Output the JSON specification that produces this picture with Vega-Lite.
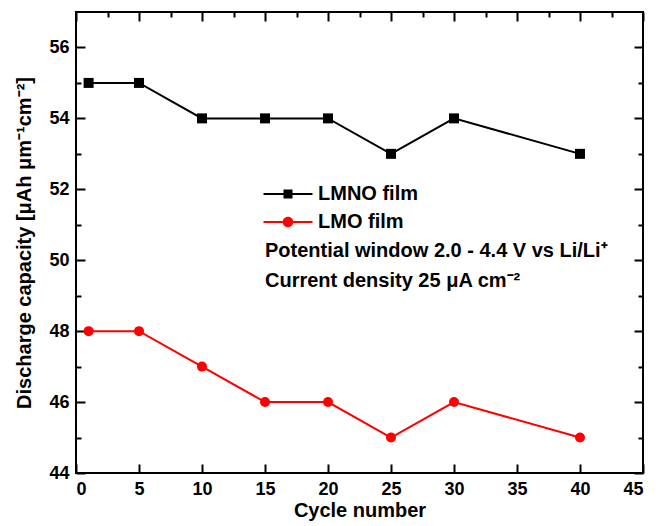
{
  "$schema": "https://vega.github.io/schema/vega-lite/v6.json",
  "width": 567,
  "height": 461,
  "autosize": {"type": "none"},
  "padding": {"left": 76, "top": 12, "right": 13, "bottom": 53},
  "background": "white",
  "config": {
    "view": {"stroke": "black", "strokeWidth": 2},
    "font": "Liberation Sans",
    "axis": {
      "domain": false,
      "grid": false,
      "tickColor": "black",
      "tickWidth": 2,
      "labelFont": "Liberation Sans",
      "labelFontWeight": "bold",
      "labelFontSize": 18,
      "labelColor": "black",
      "titleFont": "Liberation Sans",
      "titleFontWeight": "bold",
      "titleFontSize": 20,
      "titleColor": "black"
    }
  },
  "data": {
    "values": [
      {"cycle": 1, "capacity": 55, "series": "LMNO film"},
      {"cycle": 5, "capacity": 55, "series": "LMNO film"},
      {"cycle": 10, "capacity": 54, "series": "LMNO film"},
      {"cycle": 15, "capacity": 54, "series": "LMNO film"},
      {"cycle": 20, "capacity": 54, "series": "LMNO film"},
      {"cycle": 25, "capacity": 53, "series": "LMNO film"},
      {"cycle": 30, "capacity": 54, "series": "LMNO film"},
      {"cycle": 40, "capacity": 53, "series": "LMNO film"},
      {"cycle": 1, "capacity": 48, "series": "LMO film"},
      {"cycle": 5, "capacity": 48, "series": "LMO film"},
      {"cycle": 10, "capacity": 47, "series": "LMO film"},
      {"cycle": 15, "capacity": 46, "series": "LMO film"},
      {"cycle": 20, "capacity": 46, "series": "LMO film"},
      {"cycle": 25, "capacity": 45, "series": "LMO film"},
      {"cycle": 30, "capacity": 46, "series": "LMO film"},
      {"cycle": 40, "capacity": 45, "series": "LMO film"}
    ]
  },
  "resolve": {"axis": {"x": "independent", "y": "independent"}},
  "layer": [
    {
      "mark": {"type": "line", "strokeWidth": 2},
      "encoding": {
        "x": {
          "field": "cycle", "type": "quantitative",
          "scale": {"domain": [0, 45], "nice": false},
          "axis": {"orient": "bottom", "values": [0, 5, 10, 15, 20, 25, 30, 35, 40, 45], "tickSize": -9, "labelPadding": 16, "title": "Cycle number", "titlePadding": 2}
        },
        "y": {
          "field": "capacity", "type": "quantitative",
          "scale": {"domain": [44, 57], "nice": false, "zero": false},
          "axis": {"orient": "left", "values": [44, 46, 48, 50, 52, 54, 56], "tickSize": -9, "labelPadding": 16, "title": "Discharge capacity [μAh μm⁻¹cm⁻²]", "titlePadding": 14}
        },
        "color": {
          "field": "series", "type": "nominal",
          "scale": {"domain": ["LMNO film", "LMO film"], "range": ["black", "#ff0000"]},
          "legend": {
            "orient": "none",
            "legendX": 202,
            "legendY": 172,
            "title": null,
            "padding": 0,
            "symbolSize": 100,
            "symbolStrokeWidth": 0,
            "labelFont": "Liberation Sans",
            "labelFontWeight": "bold",
            "labelFontSize": 20,
            "labelColor": "black",
            "labelOffset": 20,
            "rowPadding": 8,
            "encode": {
              "symbols": {
                "update": {
                  "shape": {"signal": "datum.value === 'LMNO film' ? 'M-4.9,-0.2L4.9,-0.2L4.9,0.2L-4.9,0.2ZM-0.9,-0.9L0.9,-0.9L0.9,0.9L-0.9,0.9Z' : 'M-4.9,-0.2L4.9,-0.2L4.9,0.2L-4.9,0.2ZM1.05,0A1.05,1.05,0,1,1,-1.05,0A1.05,1.05,0,1,1,1.05,0Z'"},
                  "fill": {"signal": "datum.value === 'LMNO film' ? 'black' : '#ff0000'"},
                  "strokeWidth": {"value": 0},
                  "fillOpacity": {"value": 1},
                  "opacity": {"value": 1}
                }
              }
            }
          }
        }
      }
    },
    {
      "transform": [{"filter": "datum.series === 'LMNO film'"}],
      "mark": {"type": "point", "shape": "square", "filled": true, "opacity": 1, "size": 100, "color": "black"},
      "encoding": {
        "x": {
          "field": "cycle", "type": "quantitative",
          "axis": {"orient": "top", "values": [0, 5, 10, 15, 20, 25, 30, 35, 40, 45], "tickSize": -9, "labels": false, "title": null}
        },
        "y": {
          "field": "capacity", "type": "quantitative",
          "axis": {"orient": "left", "values": [45, 47, 49, 51, 53, 55], "tickSize": -5, "labels": false, "title": null}
        }
      }
    },
    {
      "transform": [{"filter": "datum.series === 'LMO film'"}],
      "mark": {"type": "point", "shape": "circle", "filled": true, "opacity": 1, "size": 100, "color": "#ff0000"},
      "encoding": {
        "x": {"field": "cycle", "type": "quantitative", "axis": null},
        "y": {"field": "capacity", "type": "quantitative", "axis": null}
      }
    },
    {
      "data": {"values": [{"note": "Potential window 2.0 - 4.4 V vs Li/Li⁺"}]},
      "mark": {"type": "text", "align": "left", "baseline": "middle", "font": "Liberation Sans", "fontWeight": "bold", "fontSize": 20, "color": "black"},
      "encoding": {
        "text": {"field": "note"},
        "x": {"datum": 15, "type": "quantitative",
          "axis": {"orient": "top", "values": [2.5, 7.5, 12.5, 17.5, 22.5, 27.5, 32.5, 37.5, 42.5], "tickSize": -5, "labels": false, "title": null}},
        "y": {"datum": 50.27, "type": "quantitative",
          "axis": {"orient": "right", "values": [44, 46, 48, 50, 52, 54, 56], "tickSize": -9, "labels": false, "title": null}}
      }
    },
    {
      "data": {"values": [{"note": "Current density 25 μA cm⁻²"}]},
      "mark": {"type": "text", "align": "left", "baseline": "middle", "font": "Liberation Sans", "fontWeight": "bold", "fontSize": 20, "color": "black"},
      "encoding": {
        "text": {"field": "note"},
        "x": {"datum": 15, "type": "quantitative", "axis": null},
        "y": {"datum": 49.42, "type": "quantitative",
          "axis": {"orient": "right", "values": [45, 47, 49, 51, 53, 55], "tickSize": -5, "labels": false, "title": null}}
      }
    }
  ]
}
